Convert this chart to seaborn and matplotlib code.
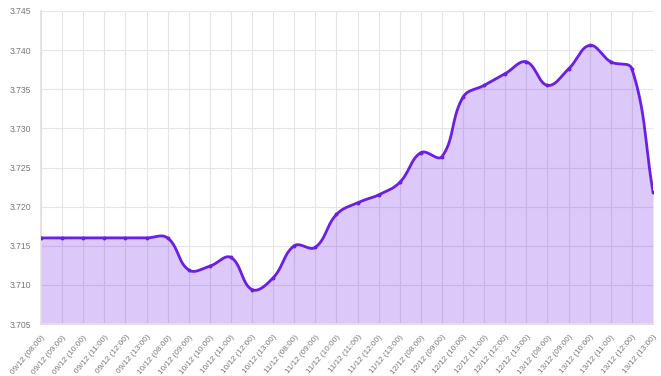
import numpy as np
import pandas as pd
import matplotlib
matplotlib.use("Agg")
import matplotlib.pyplot as plt
import seaborn as sns

days = ["09/12", "10/12", "11/12", "12/12", "13/12"]
hours = ["08:00", "09:00", "10:00", "11:00", "12:00", "13:00"]
labels = [f"{d} ({h})" for d in days for h in hours]
values = [3.7160, 3.7160, 3.7160, 3.7160, 3.7160, 3.7160,
          3.7160, 3.7119, 3.7124, 3.7135, 3.7094, 3.7109,
          3.7150, 3.7148, 3.7190, 3.7205, 3.7215, 3.7231,
          3.7269, 3.7264, 3.7340, 3.7355, 3.7370, 3.7385,
          3.7355, 3.7376, 3.7406, 3.7385, 3.7376, 3.7219]
y_ticks = [3.705, 3.710, 3.715, 3.720, 3.725, 3.730, 3.735, 3.740, 3.745]

LINE = "#6a1ee6"
FILL = (110/255, 30/255, 230/255, 0.24)

sns.set_theme(style="white")
plt.rcParams['font.family'] = ['Liberation Sans', 'DejaVu Sans']

fig = plt.figure(figsize=(6.61, 3.76), dpi=100)
ax = fig.add_axes([41/661, 1 - 324/376, (653-41)/661, (324-11)/376])

x = np.arange(len(values), dtype=float)
y = np.array(values)

# Chart.js-style spline (tension 0.4), distances in pixel-like space
sx, sy = 21.1, 7820.0
t = 0.4
n = len(x)
cp_prev = np.zeros((n, 2)); cp_next = np.zeros((n, 2))
for i in range(n):
    p = np.array([x[max(i-1, 0)], y[max(i-1, 0)]])
    c = np.array([x[i], y[i]])
    q = np.array([x[min(i+1, n-1)], y[min(i+1, n-1)]])
    d01 = np.hypot((c[0]-p[0])*sx, (c[1]-p[1])*sy)
    d12 = np.hypot((q[0]-c[0])*sx, (q[1]-c[1])*sy)
    tot = d01 + d12
    s01 = d01/tot if tot else 0
    s12 = d12/tot if tot else 0
    fa = t*s01; fb = t*s12
    cp_prev[i] = c - fa*(q - p)
    cp_next[i] = c + fb*(q - p)
cx, cy = [], []
u = np.linspace(0, 1, 40)
for i in range(n-1):
    P0 = np.array([x[i], y[i]]); P1 = cp_next[i]; P2 = cp_prev[i+1]; P3 = np.array([x[i+1], y[i+1]])
    B = ((1-u)**3)[:, None]*P0 + (3*(1-u)**2*u)[:, None]*P1 + (3*(1-u)*u**2)[:, None]*P2 + (u**3)[:, None]*P3
    cx.extend(B[:, 0]); cy.extend(B[:, 1])
curve = pd.DataFrame({"x": cx, "y": cy})
pts = pd.DataFrame({"x": x, "y": y})

ax.set_xlim(0, n-1)
ax.set_ylim(3.705, 3.745)
ax.fill_between(curve["x"], curve["y"], 3.705, color=FILL, linewidth=0, zorder=2)
sns.lineplot(data=curve, x="x", y="y", ax=ax, color=LINE, linewidth=2, sort=False, zorder=3)
sns.scatterplot(data=pts, x="x", y="y", ax=ax, color=LINE, s=8, linewidth=0, zorder=4)

ax.set_xticks(x)
ax.set_xticklabels(labels, rotation=50, ha="right", rotation_mode="anchor", fontsize=5.9, color="#777777")
ax.set_yticks(y_ticks)
ax.set_yticklabels([f"{v:.3f}" for v in y_ticks], fontsize=6.2, color="#777777")
ax.grid(True, color="#e5e5e5", linewidth=0.8, zorder=0)
ax.set_axisbelow(True)
ax.tick_params(axis="y", length=4, color="#e5e5e5", width=0.8, pad=3)
ax.tick_params(axis="x", length=4, color="#e5e5e5", width=0.8, pad=3)
for s in ax.spines.values():
    s.set_visible(False)
ax.spines["left"].set_visible(True); ax.spines["left"].set_color("#e0e0e0")
ax.spines["bottom"].set_visible(True); ax.spines["bottom"].set_color("#e0e0e0")
ax.set_xlabel(""); ax.set_ylabel("")

fig.savefig("out.png", dpi=100)
